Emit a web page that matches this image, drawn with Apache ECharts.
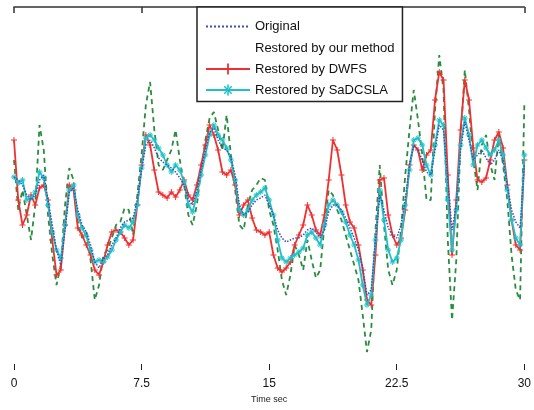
<!DOCTYPE html>
<html>
<head>
<meta charset="utf-8">
<script src="https://cdn.jsdelivr.net/npm/echarts@6/dist/echarts.min.js"></script>
<style>html,body{margin:0;padding:0;background:#fff;}#c{width:534px;height:410px;}</style>
</head>
<body>
<div id="c"></div>
<script>
// ---- data (arbitrary vertical units) ----
const sampleStep = 0.25; // seconds between samples, t from 0 to 30
const seriesNames = ["Original", "Restored by our method", "Restored by DWFS", "Restored by SaDCSLA"];
const xTickLabels = ["0", "7.5", "15", "22.5", "30"];
const xAxisName = "Time sec";

const original = [
  193,190,185,175,170,175,190,195,170,145,
  120,105,140,178,182,160,145,138,125,108,
  102,112,115,125,132,142,148,150,152,170,
  200,225,230,222,212,208,205,202,198,192,
  185,170,165,180,200,220,238,242,230,222,
  220,212,195,165,155,158,165,170,172,175,
  165,155,140,132,128,130,132,132,135,140,
  142,138,132,140,158,165,165,160,152,142,
  132,120,102,75,80,130,175,160,142,135,
  132,145,170,205,225,220,210,198,195,220,
  245,240,190,140,165,220,248,230,210,215,
  220,212,205,210,220,210,185,160,148,142,
  205
];
const ourMethod = [
  210,160,180,155,130,165,245,220,155,115,
  85,105,165,202,190,148,132,138,110,70,
  85,115,120,132,145,148,162,160,135,175,
  215,265,288,240,205,200,210,220,240,210,
  185,155,145,165,200,230,252,258,240,220,
  255,215,180,145,140,165,180,185,192,190,
  160,145,120,90,75,95,125,115,100,130,
  110,92,100,145,180,175,160,150,135,120,
  105,90,55,18,40,140,205,145,100,85,
  100,140,195,240,280,250,215,170,170,260,
  315,280,130,50,110,230,300,260,210,180,
  225,235,205,190,235,205,170,115,80,70,
  265
];
const dwfs = [
  230,170,145,155,175,165,182,185,170,130,
  95,100,145,185,180,142,135,125,115,100,
  95,108,125,138,140,138,132,125,130,165,
  205,235,225,200,178,175,172,178,173,180,
  190,175,170,185,205,225,245,235,220,198,
  195,200,185,155,165,170,152,140,138,135,
  138,115,102,98,102,108,125,135,145,165,
  155,140,135,155,190,230,220,195,165,148,
  142,125,100,70,65,115,190,192,155,135,
  125,132,160,205,225,220,200,215,220,270,
  298,290,195,115,170,240,290,270,222,190,
  188,192,210,230,238,222,185,150,125,120,
  210
];
const sadcsla = [
  193,187,190,170,172,178,198,192,165,138,
  120,112,145,180,185,155,142,134,120,108,
  110,108,113,120,130,138,145,142,148,165,
  202,232,235,230,222,215,205,198,205,200,
  188,165,158,175,195,215,235,245,235,230,
  222,210,190,160,155,160,170,175,178,182,
  170,155,130,112,108,112,115,118,122,135,
  138,132,125,145,165,170,165,158,148,135,
  125,110,85,65,75,130,180,150,120,108,
  112,130,165,200,230,232,225,205,195,225,
  250,245,170,120,160,225,252,235,205,225,
  230,222,215,220,230,215,180,150,132,125,
  215
];

function pairs(arr){ return arr.map((v,i)=>[i*sampleStep, v]); }

const plusPath = 'path://M4.2,0H5.8V4.2H10V5.8H5.8V10H4.2V5.8H0V4.2H4.2Z';
const starPath = 'path://M4.3,0H5.7V10H4.3Z M0,4.3H10V5.7H0Z M1.2,2.1L2.1,1.2L8.8,7.9L7.9,8.8Z M8.8,2.1L7.9,1.2L1.2,7.9L2.1,8.8Z';

const chart = echarts.init(document.getElementById('c'), null, {renderer:'canvas'});
const font = 'Liberation Sans, Arial, sans-serif';

chart.setOption({
  animation: false,
  backgroundColor: '#ffffff',
  grid: { left: 14, top: 7, width: 518, bottom: 40, containLabel: false },
  xAxis: [
    {
      type: 'value', min: 0, max: 30, interval: 7.5, position: 'bottom',
      axisLine: { show: false },
      axisTick: { show: true, inside: true, length: 6, lineStyle: { color: '#222', width: 1 } },
      axisLabel: { margin: 8, color: '#111', fontSize: 12, fontFamily: font,
        formatter: (v) => { const i = Math.round(v / 7.5); return xTickLabels[i] !== undefined ? xTickLabels[i] : ''; } },
      splitLine: { show: false },
      name: xAxisName, nameLocation: 'middle', nameGap: 25,
      nameTextStyle: { color: '#222', fontSize: 9, fontFamily: font }
    },
    {
      type: 'value', min: 0, max: 30, interval: 7.5, position: 'top',
      axisLine: { show: true, lineStyle: { color: '#333', width: 1.5 } },
      axisTick: { show: true, inside: true, length: 6, lineStyle: { color: '#333', width: 1.5 } },
      axisLabel: { show: false },
      splitLine: { show: false }
    }
  ],
  yAxis: {
    type: 'value', min: 0, max: 363, show: false
  },
  legend: {
    orient: 'vertical', left: 197, top: 7,
    backgroundColor: '#fff', borderColor: '#222', borderWidth: 1.5,
    padding: [13, 8, 5, 8], itemGap: 8, itemWidth: 44, itemHeight: 14,
    textStyle: { color: '#111', fontSize: 13, fontFamily: font },
    data: [
      { name: seriesNames[0], itemStyle: { opacity: 0 } },
      { name: seriesNames[1], icon: 'none', lineStyle: { opacity: 0 }, itemStyle: { opacity: 0 } },
      { name: seriesNames[2] },
      { name: seriesNames[3] }
    ]
  },
  series: [
    {
      name: seriesNames[0], type: 'line', data: pairs(original), showSymbol: false, symbol: 'none',
      itemStyle: { color: '#3a4fb5' },
      lineStyle: { color: '#3a4fb5', width: 1.5, type: 'dotted' }, z: 5
    },
    {
      name: seriesNames[1], type: 'line', data: pairs(ourMethod), showSymbol: false, symbol: 'none',
      itemStyle: { color: '#2a8c3f' },
      lineStyle: { color: '#2a8c3f', width: 1.8, type: [5, 4] }, z: 2
    },
    {
      name: seriesNames[2], type: 'line', data: pairs(dwfs), symbol: plusPath, symbolSize: 6, showAllSymbol: true,
      itemStyle: { color: '#f03030' },
      lineStyle: { color: '#f03030', width: 1.8, type: 'solid' }, z: 3
    },
    {
      name: seriesNames[3], type: 'line', data: pairs(sadcsla), symbol: starPath, symbolSize: 6, showAllSymbol: true,
      itemStyle: { color: '#20c0c8' },
      lineStyle: { color: '#20c0c8', width: 1.8, type: 'solid' }, z: 4
    }
  ]
});
</script>
</body>
</html>
